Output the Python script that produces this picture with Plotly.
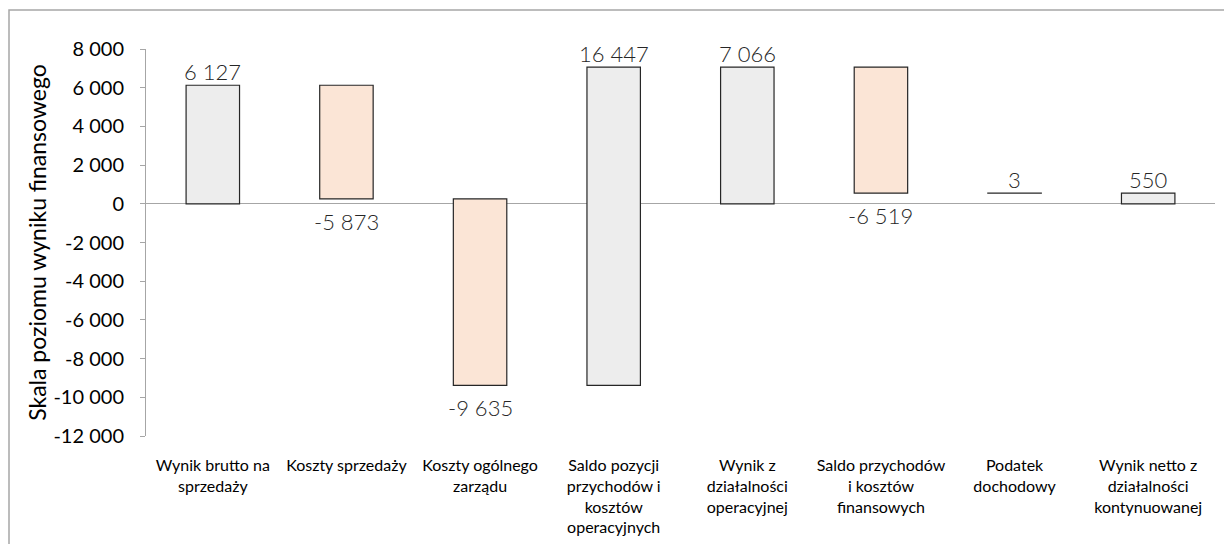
import plotly.graph_objects as go

categories = [
    "Wynik brutto na<br>sprzedaży",
    "Koszty sprzedaży",
    "Koszty ogólnego<br>zarządu",
    "Saldo pozycji<br>przychodów i<br>kosztów<br>operacyjnych",
    "Wynik z<br>działalności<br>operacyjnej",
    "Saldo przychodów<br>i kosztów<br>finansowych",
    "Podatek<br>dochodowy",
    "Wynik netto z<br>działalności<br>kontynuowanej",
]
values = [6127, -5873, -9635, 16447, 7066, -6519, 3, 550]
measures = ["relative", "relative", "relative", "relative", "total", "relative", "relative", "total"]

tick_vals = [8000, 6000, 4000, 2000, 0, -2000, -4000, -6000, -8000, -10000, -12000]
tick_text = ["8 000", "6 000", "4 000", "2 000", "0", "-2 000", "-4 000", "-6 000", "-8 000", "-10 000", "-12 000"]

GRAY = "#EDEDED"
PEACH = "#FBE5D6"


def fmt(v):
    s = f"{abs(v):,}".replace(",", " ")
    return ("-" if v < 0 else "") + s


bases, heights, colors, texts = [], [], [], []
cum = 0
for v, m in zip(values, measures):
    if m == "total":
        bases.append(0)
        heights.append(v)
        cum = v
        colors.append(GRAY)
    else:
        bases.append(cum)
        heights.append(v)
        cum += v
        colors.append(PEACH if v < 0 else GRAY)
    texts.append(fmt(v))

fig = go.Figure()
fig.add_trace(go.Bar(
    x=categories,
    y=heights,
    base=bases,
    marker=dict(color=colors, line=dict(color="#262626", width=1.2)),
    cliponaxis=False,
    width=0.4,
    hoverinfo="skip",
))

annotations = []
for cat, b, h, t in zip(categories, bases, heights, texts):
    end = b + h
    if h >= 0:
        annotations.append(dict(x=cat, y=end, xref="x", yref="y", text=t, showarrow=False,
                                yanchor="bottom", yshift=-2,
                                font=dict(family="Lato", size=22, color="#262626", weight=300)))
    else:
        annotations.append(dict(x=cat, y=end, xref="x", yref="y", text=t, showarrow=False,
                                yanchor="top", yshift=-7,
                                font=dict(family="Lato", size=22, color="#262626", weight=300)))

fig.update_layout(
    width=1224, height=544,
    margin=dict(l=146, r=9, t=49, b=108),
    plot_bgcolor="white", paper_bgcolor="white",
    showlegend=False,
    font=dict(family="Lato", color="#000000"),
    annotations=annotations,
    xaxis=dict(
        showline=False, ticks="", showgrid=False, zeroline=False,
        tickfont=dict(family="Lato", size=16, color="#000000"),
        tickangle=0, automargin=False, ticklabelstandoff=18,
    ),
    yaxis=dict(
        range=[-12000, 8000],
        tickvals=tick_vals, ticktext=tick_text,
        showline=True, linecolor="#A6A6A6", linewidth=1,
        ticks="outside", ticklen=5, tickcolor="#A6A6A6",
        showgrid=False,
        zeroline=True, zerolinecolor="#A6A6A6", zerolinewidth=1,
        tickfont=dict(family="Lato", size=20, color="#000000"),
        ticklabelstandoff=12,
        automargin=False,
        title=dict(text="Skala poziomu wyniku finansowego",
                   font=dict(family="Lato", size=23, color="#000000"), standoff=0),
    ),
    shapes=[dict(
        type="rect", xref="paper", yref="paper",
        x0=(9 - 146) / 1069, x1=1.05, y0=-0.5, y1=(436 - 10) / 387,
        line=dict(color="#A6A6A6", width=1.5), fillcolor="rgba(0,0,0,0)", layer="below",
    )],
)

fig.write_html("out.html", post_script="document.body.style.margin='0';",
               config={"displayModeBar": False})
